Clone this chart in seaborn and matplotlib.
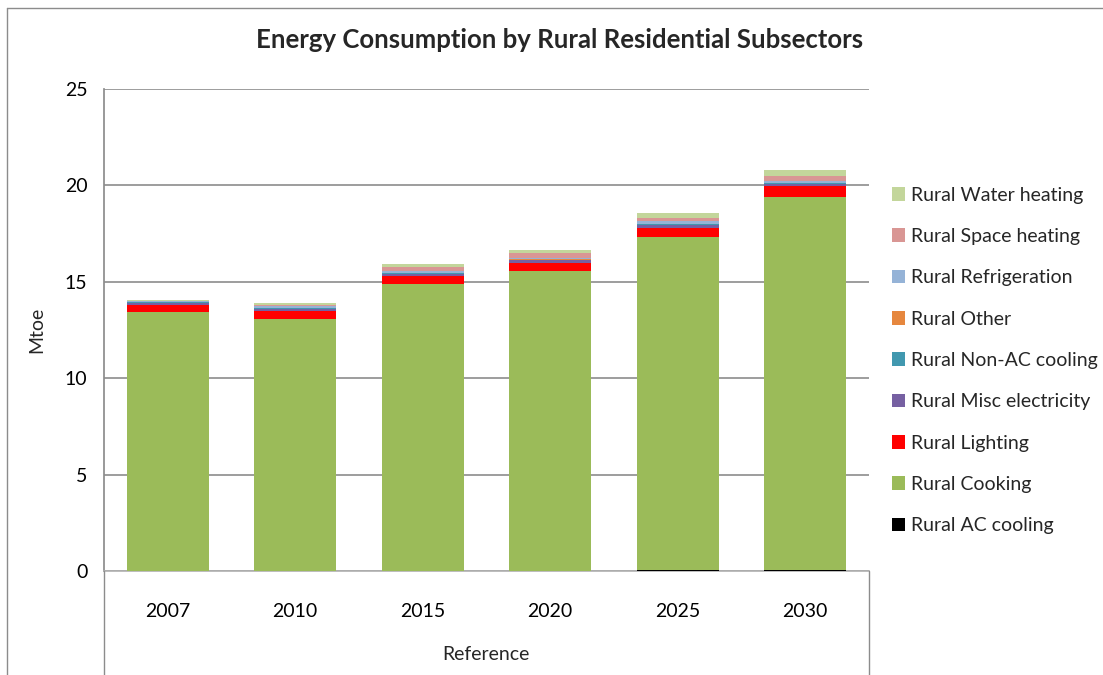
import numpy as np
import pandas as pd
import matplotlib
matplotlib.use("Agg")
import matplotlib.pyplot as plt
import seaborn as sns
from matplotlib.patches import Patch
from matplotlib.lines import Line2D

years = ["2007", "2010", "2015", "2020", "2025", "2030"]
series_names = ["Rural AC cooling", "Rural Cooking", "Rural Lighting", "Rural Misc electricity",
                "Rural Non-AC cooling", "Rural Other", "Rural Refrigeration",
                "Rural Space heating", "Rural Water heating"]
ac_cooling      = [0.00, 0.00, 0.01, 0.02, 0.06, 0.07]
cooking         = [13.42, 13.07, 14.89, 15.54, 17.28, 19.31]
lighting        = [0.36, 0.41, 0.40, 0.43, 0.47, 0.57]
misc_electric   = [0.14, 0.12, 0.12, 0.14, 0.16, 0.13]
non_ac_cooling  = [0.03, 0.03, 0.02, 0.02, 0.02, 0.02]
other           = [0.01, 0.01, 0.01, 0.01, 0.01, 0.01]
refrigeration   = [0.04, 0.08, 0.10, 0.07, 0.13, 0.13]
space_heating   = [0.03, 0.10, 0.21, 0.26, 0.20, 0.27]
water_heating   = [0.03, 0.08, 0.17, 0.17, 0.23, 0.28]

colors = ["#000000", "#9BBB59", "#FF0000", "#7660A2", "#4198AF", "#E6873E",
          "#95B3D7", "#D99694", "#C3D69B"]

values = [ac_cooling, cooking, lighting, misc_electric, non_ac_cooling, other,
          refrigeration, space_heating, water_heating]
cum = np.cumsum(np.array(values), axis=0)

sns.set_theme(style="white")
plt.rcParams['font.family'] = ['Lato', 'DejaVu Sans']

W, H = 1103, 675
fig = plt.figure(figsize=(W / 100, H / 100), dpi=100)
L, R, T, B = 104, 869, 89, 571
ax = fig.add_axes([L / W, 1 - B / H, (R - L) / W, (B - T) / H])

# overlay cumulative totals from top layer down
for i in range(len(series_names) - 1, -1, -1):
    df = pd.DataFrame({"year": years, "val": cum[i]})
    sns.barplot(data=df, x="year", y="val", color=colors[i], width=0.645,
                saturation=1, ax=ax, linewidth=0, zorder=3)

ax.set_ylim(0, 25)
ax.set_yticks([0, 5, 10, 15, 20, 25])
ax.yaxis.grid(True, color="#8c8c8c", linewidth=1.2, zorder=0)
ax.xaxis.grid(False)
ax.set_axisbelow(True)
for s in ["top", "right"]:
    ax.spines[s].set_visible(False)
ax.spines["left"].set_color("#8c8c8c")
ax.spines["bottom"].set_color("#b0b0b0")
ax.spines["bottom"].set_linewidth(1.2)
ax.tick_params(axis="both", length=0, labelsize=14, colors="black")
ax.tick_params(axis="x", pad=23)
ax.tick_params(axis="y", pad=12)
ax.set_xlabel("")
ax.set_ylabel("")

fig.text(37 / W, 1 - 330 / H, "Mtoe", rotation=90, ha="center", va="center", fontsize=14)
fig.text(486 / W, 1 - 655 / H, "Reference", ha="center", va="center", fontsize=14)
fig.text(560 / W, 1 - 40 / H, "Energy Consumption by Rural Residential Subsectors",
         ha="center", va="center", fontsize=18.5, fontweight="bold")

# category divider lines below axis and outer border
for x in [L, R]:
    fig.add_artist(Line2D([x / W, x / W], [1 - B / H, 0], color="#8c8c8c", linewidth=1))
fig.add_artist(Line2D([7 / W, 7 / W], [1 - 8 / H, 0], color="#8c8c8c", linewidth=1))
fig.add_artist(Line2D([7 / W, 1], [1 - 8 / H, 1 - 8 / H], color="#8c8c8c", linewidth=1))

handles = [Patch(facecolor=c, edgecolor="none") for c in colors][::-1]
labels = series_names[::-1]
fig.legend(handles, labels, loc="upper left", bbox_to_anchor=(884 / W, 1 - 179 / H),
           frameon=False, fontsize=14, handlelength=0.7, handleheight=0.7,
           handletextpad=0.3, labelspacing=1.25, borderaxespad=0)

fig.savefig("out.png", dpi=100)
